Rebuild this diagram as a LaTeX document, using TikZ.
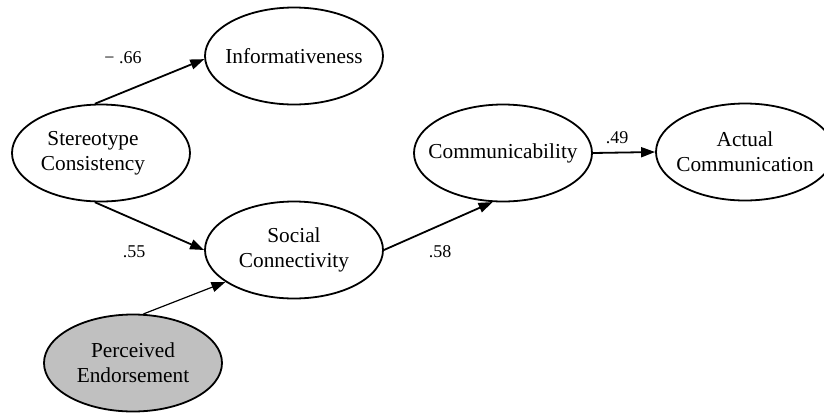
\documentclass[tikz,border=0pt]{standalone}
\usepackage{fontspec}
\setmainfont{Liberation Serif}
\usetikzlibrary{shapes.geometric,arrows.meta}
\definecolor{shadegray}{RGB}{192,192,192}
\begin{document}
\begin{tikzpicture}[x=1pt,y=-1pt,
  latent/.style={ellipse,draw,line width=1.8pt,minimum width=178pt,minimum height=97pt,
    inner xsep=-45pt,inner ysep=-25pt,align=center,font=\fontsize{21.3}{25}\selectfont},
  path/.style={line width=1.8pt,-{Triangle[length=14pt,width=10pt]}},
  thinpath/.style={line width=1.2pt,-{Triangle[length=14pt,width=10pt]}},
  coef/.style={font=\fontsize{18}{20}\selectfont,inner sep=0pt}]
  \clip (0,0) rectangle (824,413);
  \fill[white] (0,0) rectangle (824,413);

  % latent variables
  \node[latent] (info)   at (294,56)  {Informativeness};
  \node[latent] (stereo) at (101,153) {Stereotype\hspace*{16pt}\\Consistency\hspace*{16pt}};
  \node[latent] (social) at (294,250) {Social\\Connectivity};
  \node[latent] (commun) at (503,153) {Communicability};
  \node[latent] (actual) at (745,152) {Actual\\Communication};
  \node[latent,fill=shadegray] (endorse) at (133,363) {Perceived\\Endorsement};

  % paths
  \draw[path] (stereo.97) -- (info.182);
  \draw[path] (stereo.263) -- (social.west);
  \draw[thinpath] (endorse.78) -- (social.205);
  \draw[path] (social.east) -- (commun.258);
  \draw[path] (commun.east) -- (actual.west);

  % path coefficients
  \node[coef] (c1) at (123,58)  {\textminus\ .66};
  \node[coef] (c2) at (134,252) {.55};
  \node[coef] (c3) at (440,252) {.58};
  \node[coef] (c4) at (617,138) {.49};
\end{tikzpicture}
\end{document}
